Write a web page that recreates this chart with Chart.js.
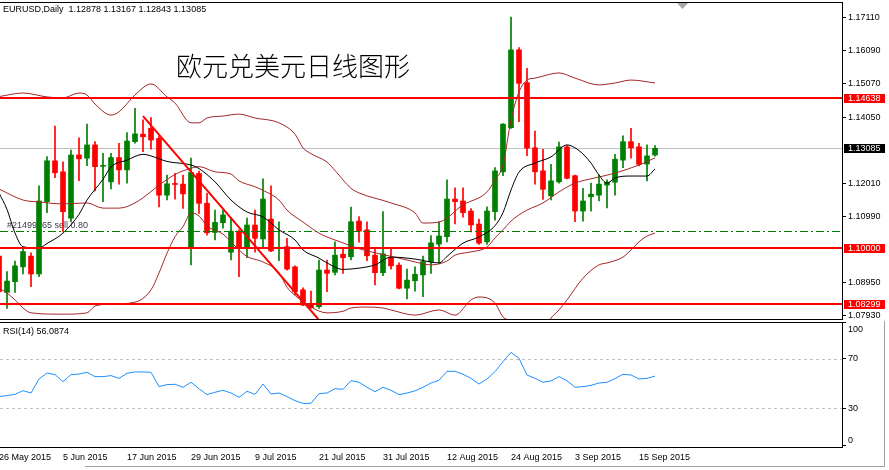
<!DOCTYPE html>
<html>
<head>
<meta charset="utf-8">
<script src="https://cdn.jsdelivr.net/npm/chart.js"></script>
<style>
  html, body { margin: 0; padding: 0; background: #fff; }
  #wrap { position: relative; width: 889px; height: 470px; overflow: hidden; }
  #main { position: absolute; left: 0; top: 0; }
  #rsi  { position: absolute; left: 0; top: 321px; }
</style>
</head>
<body>
<div id="wrap">
  <canvas id="main" width="889" height="321"></canvas>
  <canvas id="rsi" width="889" height="149"></canvas>
</div>
<script>
/* ─── Data (daily bars, 26 May – 17 Sep 2015) ───────────── */
const opens = [1.0976,1.0864,1.0897,1.0943,1.0976,1.0921,1.1144,1.1270,1.1236,1.1093,
  1.1288,1.1278,1.1319,1.1253,1.1205,1.1280,1.1242,1.1329,1.1352,1.1370,
  1.1339,1.1164,1.1200,1.1198,1.1000,1.1231,1.1139,1.1049,1.1079,1.0988,
  1.1053,1.1005,1.1072,1.1029,1.1090,1.0999,1.1005,1.0943,1.0872,1.0830,
  1.0820,1.0933,1.0926,1.0982,1.0974,1.1084,1.1057,1.0979,1.0925,1.0971,
  1.0948,1.0877,1.0900,1.0918,1.0959,1.1013,1.1036,1.1152,1.1146,1.1115,
  1.1075,1.1020,1.1113,1.1236,1.1372,1.1612,1.1511,1.1310,1.1239,1.1162,
  1.1205,1.1313,1.1224,1.1115,1.1159,1.1164,1.1195,1.1204,1.1272,1.1329,
  1.1313,1.1260,1.12878];
const highs = [1.0990,1.0928,1.0961,1.1003,1.0986,1.1193,1.1283,1.1377,1.1267,1.1303,
  1.1341,1.1383,1.1329,1.1293,1.1293,1.1324,1.1357,1.1432,1.1396,1.1403,
  1.1346,1.1226,1.1231,1.1226,1.1278,1.1238,1.1170,1.1118,1.1118,1.1093,
  1.1057,1.1093,1.1118,1.1214,1.1193,1.1082,1.1031,1.0946,1.0878,1.0868,
  1.0964,1.0964,1.1020,1.0998,1.1127,1.1098,1.1082,1.0998,1.1113,1.0998,
  1.0955,1.0936,1.0943,1.0976,1.1039,1.1082,1.1211,1.1187,1.1187,1.1123,
  1.1090,1.1128,1.1249,1.1385,1.1713,1.1619,1.1555,1.1362,1.1305,1.1259,
  1.1328,1.1317,1.1226,1.1185,1.1201,1.1226,1.1211,1.1290,1.1347,1.1370,
  1.1324,1.1319,1.13167];
const lows = [1.0855,1.0815,1.0864,1.0921,1.0882,1.0913,1.1110,1.1218,1.1051,1.1082,
  1.1209,1.1255,1.1177,1.1144,1.1183,1.1198,1.1201,1.1324,1.1298,1.1306,
  1.1128,1.1149,1.1152,1.1123,1.0949,1.1108,1.1041,1.1026,1.1062,1.0964,
  1.0913,1.0971,1.0988,1.1000,1.0990,1.0962,1.0933,1.0856,1.0823,1.0815,
  1.0815,1.0866,1.0918,1.0923,1.0964,1.1019,1.0962,1.0887,1.0916,1.0936,
  1.0875,1.0844,1.0868,1.0851,1.0923,1.0954,1.1020,1.1075,1.1096,1.1051,
  1.1012,1.1012,1.1087,1.1224,1.1370,1.1391,1.1286,1.1198,1.1151,1.1149,
  1.1201,1.1214,1.1082,1.1084,1.1115,1.1146,1.1125,1.1164,1.1249,1.1278,
  1.1254,1.1208,1.12843];
const closes = [1.0866,1.0899,1.0946,1.0990,1.0921,1.1146,1.1270,1.1233,1.1113,1.1288,
  1.1276,1.1319,1.1252,1.1256,1.1280,1.1242,1.1331,1.1353,1.1344,1.1334,
  1.1164,1.1199,1.1197,1.1168,1.1234,1.1139,1.1048,1.1080,1.1103,1.1053,
  1.1005,1.1072,1.1031,1.1152,1.0992,1.1001,1.0936,1.0866,1.0825,1.0817,
  1.0933,1.0923,1.0979,1.0971,1.1082,1.1053,1.0977,1.0925,1.0983,1.0946,
  1.0877,1.0902,1.0920,1.0959,1.1017,1.1038,1.1152,1.1144,1.1110,1.1072,
  1.1016,1.1115,1.1239,1.1383,1.1612,1.1509,1.1309,1.1236,1.1182,1.1208,
  1.1313,1.1216,1.1115,1.1146,1.1167,1.1198,1.1204,1.1275,1.1329,1.1310,
  1.1259,1.1285,1.13085];

// Bollinger bands and moving average as [bar, price]
const bbUpper = [[0,1.1468],[3,1.1479],[6,1.1467],[8,1.1464],[10,1.1479],[11,1.1473],[12,1.1445],
  [14,1.1411],[15,1.1421],[17,1.1473],[19,1.1507],[21,1.1467],[22,1.1448],[24,1.1387],[25,1.1387],
  [26,1.1402],[28,1.1408],[30,1.1414],[32,1.1402],[35,1.1387],[37,1.1352],[38,1.1310],[39,1.1292],
  [41,1.1266],[42,1.1240],[44,1.1185],[45,1.1171],[49,1.1140],[52,1.1109],[53,1.1078],[55,1.1081],
  [58,1.1134],[61,1.1174],[62,1.1211],[63,1.1257],[64,1.1396],[65,1.1482],[66,1.1519],[67,1.1525],
  [70,1.1541],[72,1.1525],[75,1.1504],[77,1.1510],[79,1.1519],[82,1.1510]];
const bbMiddle = [[0,1.1183],[3,1.1149],[5,1.1143],[8,1.1137],[11,1.1140],[13,1.1124],[15,1.1124],
  [17,1.1140],[19,1.1175],[20,1.1195],[21,1.1212],[22,1.1228],[24,1.1247],[25,1.1252],[27,1.1236],
  [29,1.1229],[30,1.1208],[32,1.1190],[33,1.1179],[35,1.1149],[36,1.1118],[38,1.1081],[40,1.1047],
  [41,1.1035],[43,1.1017],[44,1.1007],[46,1.0992],[50,1.0970],[52,1.0958],[54,1.0949],[56,1.0961],
  [57,1.0979],[59,1.0989],[61,1.1004],[62,1.1032],[63,1.1057],[64,1.1084],[65,1.1103],[66,1.1118],
  [68,1.1140],[70,1.1174],[72,1.1201],[75,1.1220],[77,1.1232],[80,1.1257],[82,1.1279]];
const bbLower = [[0,1.0878],[1,1.0862],[2,1.0841],[3,1.0816],[4,1.0801],[8,1.0797],[11,1.0801],
  [12,1.0822],[14,1.0828],[17,1.0834],[19,1.0872],[20,1.0924],[21,1.0985],[22,1.1036],[23,1.1067],
  [24,1.1109],[25,1.1100],[26,1.1069],[28,1.1044],[30,1.0995],[31,1.0975],[33,1.0958],[35,1.0925],
  [36,1.0880],[37,1.0855],[39,1.0819],[41,1.0801],[43,1.0806],[44,1.0816],[46,1.0819],[48,1.0816],
  [49,1.0810],[52,1.0794],[55,1.0810],[57,1.0794],[59,1.0841],[60,1.0850],[62,1.0831],[63,1.0788],
  [64,1.0773],[65,1.0724],[66,1.0714],[68,1.0748],[69,1.0785],[70,1.0810],[71,1.0841],[73,1.0908],
  [75,1.0949],[76,1.0955],[78,1.0973],[79,1.0995],[80,1.1020],[81,1.1038],[82,1.1047]];
const maLine = [[0,1.1171],[1,1.1120],[2,1.1047],[3,1.1005],[5,1.1001],[6,1.1015],[8,1.1047],
  [10,1.1105],[11,1.1149],[13,1.1213],[14,1.1251],[16,1.1272],[18,1.1290],[19,1.1285],[21,1.1268],
  [24,1.1257],[25,1.1246],[27,1.1205],[29,1.1149],[31,1.1112],[33,1.1097],[35,1.1057],[37,1.1026],
  [38,1.0995],[40,1.0970],[41,1.0955],[43,1.0935],[45,1.0939],[47,1.0949],[49,1.0973],[52,1.0967],
  [55,1.0955],[56,1.0975],[58,1.1016],[60,1.1035],[62,1.1070],[63,1.1110],[64,1.1180],[65,1.1235],
  [67,1.1263],[69,1.1282],[71,1.1319],[72,1.1310],[73,1.1291],[74,1.1263],[75,1.1226],[76,1.1201],
  [77,1.1217],[79,1.1223],[81,1.1223],[82,1.1245]];
const trendLine = [[18,1.1408],[40,1.0779]];

const rsiValues = [39.5,40.3,41.3,44.3,42.4,53.8,58.6,57.3,51.6,57.3,
  57.8,59.2,55.7,55.7,56.5,54.3,58.4,59.5,59.5,59.2,
  47.6,49.2,49.5,47.0,51.1,45.9,41.1,43.0,44.6,42.4,
  38.9,43.8,41.3,49.7,41.6,42.4,39.5,36.2,34.0,34.0,
  41.9,42.4,45.9,45.4,52.4,51.1,47.0,43.5,47.0,44.6,
  41.1,42.4,44.1,47.0,50.5,52.7,60.0,60.0,57.6,54.3,
  49.7,53.8,59.7,67.8,75.4,70.5,57.0,54.3,51.1,52.2,
  55.7,52.4,47.0,47.6,48.6,50.5,51.1,54.1,57.6,57.0,
  53.8,54.3,56.1];

const dateLabels = ['26 May 2015','5 Jun 2015','17 Jun 2015','29 Jun 2015','9 Jul 2015','21 Jul 2015',
  '31 Jul 2015','12 Aug 2015','24 Aug 2015','3 Sep 2015','15 Sep 2015'];
const priceTicks = [1.07930, 1.08950, 1.10990, 1.12010, 1.14050, 1.15070, 1.16090, 1.17110];
const redLevels = [1.14638, 1.10000, 1.08299];
const lastPrice = 1.13085;
const orderPrice = 1.1054;
const orderLabel = '#21499765 sell 0.80';
const rsiTicks = [0, 30, 70, 100];
const rsiLevels = [30, 70];

const headerText = 'EURUSD,Daily  1.12878 1.13167 1.12843 1.13085';
const titleText = '欧元兑美元日线图形';
const rsiText = 'RSI(14) 56.0874';

/* ─── Shared defaults ───────────────────── */
Chart.defaults.font.family = "'Liberation Sans', Arial, sans-serif";
Chart.defaults.font.size = 9;
Chart.defaults.color = '#000';

const UP = '#008000', DOWN = '#FF0000', BAND = '#A52A2A';
const SMALL = "9px 'Liberation Sans', Arial, sans-serif";

const pts = arr => arr.map(([x, y]) => ({ x, y }));
const candleColors = closes.map((c, i) => (c >= opens[i] ? UP : DOWN));
const bodies = opens.map((o, i) => ({ x: i, y: [o, closes[i]] }));
const wicks = opens.map((_, i) => ({ x: i, y: [lows[i], highs[i]] }));

function hline(ctx, x1, x2, y, color, width, dash) {
  ctx.save();
  ctx.strokeStyle = color;
  ctx.lineWidth = width;
  ctx.setLineDash(dash || []);
  ctx.beginPath();
  ctx.moveTo(x1, y);
  ctx.lineTo(x2, y);
  ctx.stroke();
  ctx.restore();
}

function priceBox(ctx, y, text, bg) {
  ctx.save();
  ctx.fillStyle = bg;
  ctx.fillRect(844, Math.round(y) - 4, 41, 9);
  ctx.fillStyle = '#fff';
  ctx.font = SMALL;
  ctx.textBaseline = 'middle';
  ctx.fillText(text, 848, Math.round(y) + 0.5);
  ctx.restore();
}

/* ═══════════════════════════════════════════════
   Main price panel
═══════════════════════════════════════════════ */
const mainDecor = {
  id: 'mainDecor',
  beforeDatasetsDraw(chart) {
    const { ctx, chartArea: a, scales: { y } } = chart;
    hline(ctx, a.left, a.right, Math.round(y.getPixelForValue(lastPrice)) + 0.5, '#C0C0C0', 1);
    const po = Math.round(y.getPixelForValue(orderPrice)) + 0.5;
    ctx.save();
    ctx.font = SMALL;
    ctx.fillStyle = '#3a3a48';
    ctx.textBaseline = 'bottom';
    ctx.fillText(orderLabel, 7, po - 1);
    ctx.restore();
  },
  afterDatasetsDraw(chart) {
    const { ctx, chartArea: a, scales: { y } } = chart;
    const po = Math.round(y.getPixelForValue(orderPrice)) + 0.5;
    hline(ctx, a.left, a.right, po, '#008000', 1, [8, 3, 2, 3]);
    redLevels.forEach(v => hline(ctx, a.left, a.right, Math.round(y.getPixelForValue(v)), '#FF0000', 2));
  },
  afterDraw(chart) {
    const { ctx, chartArea: a, scales: { y } } = chart;
    ctx.save();
    // panel frame
    ctx.strokeStyle = '#000';
    ctx.lineWidth = 1;
    ctx.strokeRect(-0.5, a.top + 0.5, a.right + 1, a.bottom - a.top);
    // header + title
    ctx.fillStyle = '#000';
    ctx.font = SMALL;
    ctx.textBaseline = 'middle';
    ctx.fillText(headerText, 3, 10);
    ctx.font = "300 26px 'Noto Sans CJK SC', sans-serif";
    ctx.fillText(titleText, 176, 66);
    // chart shift marker
    ctx.fillStyle = '#A8A8A8';
    ctx.beginPath();
    ctx.moveTo(677, 3); ctx.lineTo(688, 3); ctx.lineTo(682.5, 9); ctx.closePath();
    ctx.fill();
    ctx.restore();
    // price labels on the axis
    redLevels.forEach(v => priceBox(ctx, y.getPixelForValue(v), v.toFixed(5), '#FF0000'));
    priceBox(ctx, y.getPixelForValue(lastPrice), lastPrice.toFixed(5), '#000');
  }
};

new Chart(document.getElementById('main'), {
  type: 'bar',
  data: {
    datasets: [
      { type: 'bar', data: wicks, backgroundColor: candleColors, barThickness: 1,
        grouped: false, minBarLength: 1, borderWidth: 0, order: 6 },
      { type: 'bar', data: bodies, backgroundColor: candleColors, barThickness: 5,
        grouped: false, minBarLength: 1, borderWidth: 0, order: 5 },
      { type: 'line', data: pts(bbUpper), borderColor: BAND, borderWidth: 1, pointRadius: 0,
        cubicInterpolationMode: 'monotone', order: 4 },
      { type: 'line', data: pts(bbMiddle), borderColor: BAND, borderWidth: 1, pointRadius: 0,
        cubicInterpolationMode: 'monotone', order: 4 },
      { type: 'line', data: pts(bbLower), borderColor: BAND, borderWidth: 1, pointRadius: 0,
        cubicInterpolationMode: 'monotone', order: 4 },
      { type: 'line', data: pts(maLine), borderColor: '#000', borderWidth: 1, pointRadius: 0,
        cubicInterpolationMode: 'monotone', order: 3 },
      { type: 'line', data: pts(trendLine), borderColor: '#FF0000', borderWidth: 2, pointRadius: 0,
        order: 2 }
    ]
  },
  options: {
    responsive: false,
    animation: false,
    devicePixelRatio: 1,
    events: [],
    layout: { padding: { top: 2, bottom: 2, left: 0, right: 0 } },
    plugins: { legend: { display: false }, tooltip: { enabled: false } },
    scales: {
      x: { type: 'linear', min: 0.125, max: 105.375, offset: false, grid: { offset: false }, display: false },
      y: {
        type: 'linear', position: 'right', min: 1.07821, max: 1.17597, beginAtZero: false,
        afterBuildTicks: s => { s.ticks = priceTicks.map(v => ({ value: v })); },
        afterFit: s => { s.width = 47; s.paddingTop = 0; s.paddingBottom = 0; },
        grid: { drawOnChartArea: false, drawTicks: true, tickLength: 4, tickColor: '#000' },
        border: { display: false },
        ticks: { padding: 2, callback: v => Number(v).toFixed(5) }
      }
    }
  },
  plugins: [mainDecor]
});

/* ═══════════════════════════════════════════════
   RSI panel
═══════════════════════════════════════════════ */
const rsiDecor = {
  id: 'rsiDecor',
  beforeDatasetsDraw(chart) {
    const { ctx, chartArea: a, scales: { y } } = chart;
    rsiLevels.forEach(v => hline(ctx, a.left, a.right, Math.round(y.getPixelForValue(v)) + 0.5, '#C0C0C0', 1, [3, 3]));
  },
  afterDraw(chart) {
    const { ctx, chartArea: a, scales: { y } } = chart;
    ctx.save();
    ctx.strokeStyle = '#000';
    ctx.lineWidth = 1;
    ctx.strokeRect(-0.5, a.top + 0.5, a.right + 1, a.bottom - a.top);
    // level labels, kept inside the panel like the terminal does
    ctx.fillStyle = '#000';
    ctx.font = SMALL;
    ctx.textBaseline = 'middle';
    rsiTicks.forEach(v => {
      const py = Math.min(Math.max(y.getPixelForValue(v), a.top + 8), a.bottom - 6);
      ctx.fillText(String(v), a.right + 6, py);
    });
    ctx.fillText(rsiText, 3, 11);
    // window edges
    ctx.strokeStyle = '#A0A0A0';
    ctx.beginPath();
    ctx.moveTo(85, 145.5); ctx.lineTo(885, 145.5);
    ctx.moveTo(884.5, 0); ctx.lineTo(884.5, 146);
    ctx.stroke();
    ctx.restore();
  }
};

new Chart(document.getElementById('rsi'), {
  type: 'line',
  data: {
    datasets: [{
      data: rsiValues.map((v, i) => ({ x: i, y: v })),
      borderColor: '#1E90FF', borderWidth: 1, pointRadius: 0, tension: 0
    }]
  },
  options: {
    responsive: false,
    animation: false,
    devicePixelRatio: 1,
    events: [],
    layout: { padding: { top: 1, bottom: 0, left: 0, right: 0 } },
    plugins: { legend: { display: false }, tooltip: { enabled: false } },
    scales: {
      x: {
        type: 'linear', position: 'bottom', min: 0.125, max: 105.375,
        afterBuildTicks: s => { s.ticks = dateLabels.map((_, k) => ({ value: k * 8 })); },
        afterFit: s => { s.height = 23; s.paddingLeft = 0; s.paddingRight = 0; },
        grid: { display: false, drawTicks: false },
        border: { display: false },
        ticks: { autoSkip: false, maxRotation: 0, align: 'start', padding: 5,
                 callback: (v, i) => dateLabels[i] }
      },
      y: {
        type: 'linear', position: 'right', min: -1.4, max: 100,
        afterBuildTicks: s => { s.ticks = rsiTicks.map(v => ({ value: v })); },
        afterFit: s => { s.width = 47; s.paddingTop = 0; s.paddingBottom = 0; },
        grid: { drawOnChartArea: false, drawTicks: true, tickLength: 4, tickColor: '#000' },
        border: { display: false },
        ticks: { display: false }
      }
    }
  },
  plugins: [rsiDecor]
});
</script>
</body>
</html>
